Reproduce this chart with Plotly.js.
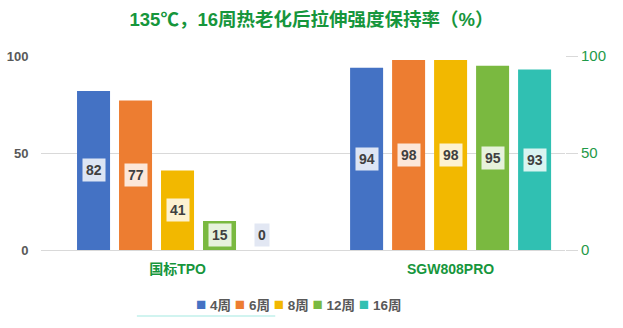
<!DOCTYPE html>
<html><head><meta charset="utf-8">
<script src="https://cdn.plot.ly/plotly-3.0.1.min.js"></script>
<style>html,body{margin:0;padding:0;background:#fff;}#c{width:623px;height:328px;}</style>
</head><body><div id="c"></div>
<script>
const categories = ['国标TPO', 'SGW808PRO'];
const seriesNames = ['4周', '6周', '8周', '12周', '16周'];
const week4 = [82, 94];
const week6 = [77, 98];
const week8 = [41, 98];
const week12 = [15, 95];
const week16 = [0, 93];
const seriesValues = [week4, week6, week8, week12, week16];
const colors = ['#4472C4', '#ED7D31', '#F2B800', '#7AB940', '#30C0B2'];
const yTicks = [0, 50, 100];

const FONT = 'Arial, "Liberation Sans", "Noto Sans CJK SC", sans-serif';
const bargap = 0.231;
const n = seriesNames.length;
const slot = (1 - bargap) / n;

const traces = seriesValues.map((vals, i) => ({
  type: 'bar', name: seriesNames[i], x: categories, y: vals,
  marker: {color: colors[i]}, showlegend: false, hoverinfo: 'skip'
}));
traces.push({type: 'scatter', mode: 'none', x: categories, y: week4, yaxis: 'y2',
  showlegend: false, hoverinfo: 'skip'});

const annotations = [];
seriesValues.forEach((vals, i) => {
  vals.forEach((v, c) => {
    annotations.push({
      xref: 'x', yref: 'y', x: c + (i - (n - 1) / 2) * slot, y: Math.max(v / 2, 7.5),
      text: '<b>' + v + '</b>', showarrow: false,
      font: {family: FONT, size: 14, color: '#404040'},
      bgcolor: v === 0 ? '#e2e7f3' : 'rgba(255,255,255,0.82)', borderpad: 3
    });
  });
});
// legend
const legendText = seriesNames.map((s, i) =>
  '<span style="color:' + colors[i] + ';font-size:17px">■</span> <b>' + s + '</b>').join(' ');
annotations.push({xref: 'paper', yref: 'paper', x: 0.492, y: -0.2835, xanchor: 'center', yanchor: 'middle',
  text: legendText, showarrow: false, font: {family: FONT, size: 13.5, color: '#595959'}});

const layout = {
  width: 623, height: 328,
  margin: {l: 41, r: 58, t: 56, b: 78},
  paper_bgcolor: '#fff', plot_bgcolor: '#fff',
  title: {text: '<b>135℃，16周热老化后拉伸强度保持率（%）</b>', x: 0.5, xanchor: 'center',
    y: 0.94, yanchor: 'middle', font: {family: FONT, size: 18.5, color: '#16963C'}},
  barmode: 'group', bargap: bargap, bargroupgap: 0.214,
  xaxis: {type: 'category', range: [-0.5, 1.419], showgrid: false, zeroline: false, showline: false,
    ticks: 'outside', ticklen: 6, tickcolor: 'rgba(0,0,0,0)',
    tickfont: {family: FONT, size: 14, color: '#16963C', weight: 'bold'}},
  yaxis: {range: [0, 100], tickvals: yTicks, showgrid: true, gridcolor: '#D9D9D9', gridwidth: 1,
    zeroline: true, zerolinecolor: '#D9D9D9', showline: false, ticks: 'outside', ticklen: 9,
    tickcolor: 'rgba(0,0,0,0)', tickfont: {family: FONT, size: 13, color: '#595959', weight: 'bold'}},
  yaxis2: {range: [0, 100], tickvals: yTicks, overlaying: 'y', side: 'right', showgrid: false,
    zeroline: false, showline: false, ticks: 'outside', ticklen: 12, tickcolor: '#D9D9D9',
    tickfont: {family: FONT, size: 15, color: '#1F9A48'}},
  annotations: annotations,
  shapes: [{type: 'line', xref: 'paper', yref: 'paper', x0: 0.183, x1: 0.447, y0: -0.34, y1: -0.34,
    line: {color: 'rgba(140,228,218,0.4)', width: 2}}]
};
Plotly.newPlot('c', traces, layout, {displayModeBar: false, staticPlot: true});
</script></body></html>
